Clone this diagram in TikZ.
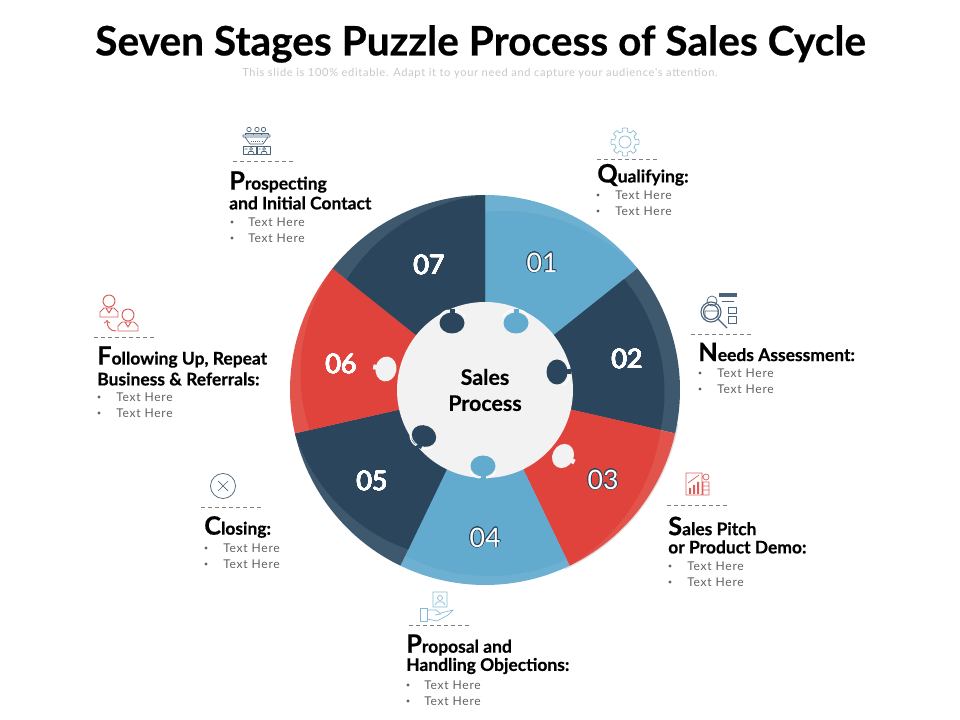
\documentclass[tikz,border=0pt]{standalone}
\usepackage{fontspec}
\usepackage{contour}
\setmainfont{Lato}[BoldFeatures={FakeBold=0.5}]
\newfontfamily\lightfont[LetterSpace=6]{Lato}
\usetikzlibrary{calc}
\definecolor{skyrim}{HTML}{6DB0D2}
\definecolor{skymain}{HTML}{62ABCF}
\definecolor{navyrim}{HTML}{3E596E}
\definecolor{navymain}{HTML}{2B465C}
\definecolor{redrim}{HTML}{E2534B}
\definecolor{redmain}{HTML}{DF433B}
\definecolor{hubgrey}{HTML}{F2F2F2}
\definecolor{iconred}{HTML}{D9605A}
\definecolor{iconsky}{HTML}{86BAD4}
\definecolor{iconnavy}{HTML}{48637A}
\contourlength{0.5pt}
\contournumber{24}
\tikzset{
  heading/.style={anchor=west, inner sep=0pt, font=\fontsize{12.4}{14}\bfseries\selectfont},
  bullet/.style={anchor=west, inner sep=0pt, text=black!62, font=\lightfont\fontsize{8.6}{10}\selectfont},
  dotmark/.style={circle, fill=black!62, inner sep=0pt, minimum size=2.4pt},
  stagenum/.style={text=white, font=\fontsize{19}{22}\selectfont},
  rule/.style={densely dashed, gray, line width=0.4pt},
  icon/.style={line width=0.5pt, line join=round}
}
\newcommand{\capl}[1]{{\fontsize{18}{14}\bfseries\selectfont #1}}
\newcommand{\heavynum}[1]{{\contourlength{0.25pt}\contour{white}{#1}}}
\newcommand{\twobullets}[3]{%
  \node[dotmark] at (#1,#3) {};
  \node[bullet] at (#2,#3) {Text Here};
  \node[dotmark] at (#1,#3+16) {};
  \node[bullet] at (#2,#3+16) {Text Here};}
\begin{document}
\begin{tikzpicture}[x=0.025cm,y=-0.025cm]
\useasboundingbox (0,0) rectangle (960,720);

\node (title) at (480.5,44) {\fontsize{28.9}{30}\bfseries\selectfont Seven Stages Puzzle Process of Sales Cycle};
\node (subtitle) at (480,73) [text=black!22] {\lightfont\fontsize{7.9}{10}\selectfont This slide is 100\% editable. Adapt it to your need and capture your audience's attention.};

% shadow under the wheel
\draw[black, opacity=0.12, line width=2pt] plot[domain=100:156, samples=30] ({485+195*sin(\x)},{390-195*cos(\x)});

% segments, rim first and then the darker face
\foreach \a/\b/\ra/\rb/\rim/\face in {
  0/51.43/178/195/skyrim/skymain,
  51.43/102.86/178/180/navyrim/navymain,
  102.86/154.29/180/195/redrim/redmain,
  154.29/205.71/188/184/skyrim/skymain,
  205.71/257.14/177/195/navyrim/navymain,
  257.14/308.57/180/195/redrim/redmain,
  308.57/360/177/195/navyrim/navymain}
{
  \fill[\rim] (485,390) -- plot[domain=\a:\b, samples=40] ({485+195*sin(\x)},{390-195*cos(\x)}) -- cycle;
  \fill[\face] (485,390) -- plot[domain=\a:\b, samples=40] ({485+(\ra+(\rb-\ra)*(\x-\a)/(\b-\a))*sin(\x)},{390-(\ra+(\rb-\ra)*(\x-\a)/(\b-\a))*cos(\x)}) -- cycle;
}

\fill[hubgrey] (485,390) circle (88);

% puzzle knobs
\foreach \x/\y/\r/\neck/\col/\chip in {
  452/323/0/-14/navymain/white,
  516/323/0/-14/skymain/white,
  557/372/-90/-14/navymain/white,
  563/456/62/13/hubgrey/redmain,
  483/466/0/13/skymain/white,
  424/436/-24/13/navymain/white,
  386/369/-100/13/hubgrey/redmain}
{
  \begin{scope}[shift={(\x,\y)}, rotate=\r]
    \fill[\col] (0,0) ellipse (12.5 and 10.5);
    \fill[\col] (-2.5,0) rectangle (2.5,\neck);
    \draw[\chip, line width=0.9pt] (3.5,0.92*\neck) .. controls (7,0.9*\neck) and (11,0.7*\neck) .. (13,0.4*\neck);
    \draw[\chip, line width=0.9pt] (-3.5,0.92*\neck) .. controls (-7,0.9*\neck) and (-11,0.7*\neck) .. (-13,0.4*\neck);
  \end{scope}
}

\node (hub) at (485,390) [align=center, font=\fontsize{15.2}{18.5}\bfseries\selectfont] {Sales\\Process};

\node[stagenum] (n1) at (542,263) {\contour{navymain}{01}};
\node[stagenum] (n2) at (627,359) {\heavynum{02}};
\node[stagenum] (n3) at (603,480) {\contour{navymain}{03}};
\node[stagenum] (n4) at (485,538) {\contour{navymain}{04}};
\node[stagenum] (n5) at (372,481) {\heavynum{05}};
\node[stagenum] (n6) at (341,364) {\heavynum{06}};
\node[stagenum] (n7) at (429,265) {\heavynum{07}};

% qualifying
\draw[rule] (597,159)--(658,159);
\node[heading] (t1) at (597,175) {\capl{Q}ualifying:};
\twobullets{598}{615}{195}
\draw[icon, iconsky] (625,142) circle (6);
\draw[icon, iconsky] plot[domain=0:360, samples=145] ({625+max(min(16*cos(8*\x)+12,14),10.5)*cos(\x)},{142+max(min(16*cos(8*\x)+12,14),10.5)*sin(\x)}) -- cycle;

% needs assessment
\draw[rule] (691,334)--(752,334);
\node[heading] (t2) at (698,352) {\capl{N}eeds Assessment:};
\twobullets{700}{717}{373}
\draw[icon, iconnavy, line width=0.8pt] (711,312) circle (10) (711,312) circle (7.5) (718,319)--(727,328);
\draw[icon, iconnavy] (712,301) circle (5) (705,320)--(705,311)--(718,311)--(718,320);
\fill[iconnavy] (719,293) rectangle (737,297);
\draw[icon, iconnavy] (722,301)--(734,301) (728,307) rectangle (736,313) (728,316) rectangle (736,323);

% sales pitch
\draw[rule] (667,505)--(728,505);
\node[heading] (t3) at (668,526) {\capl{S}ales Pitch};
\node[heading] (t3b) at (668,547) {or Product Demo:};
\twobullets{670}{687}{566}
\draw[icon, iconred] (686,473) rectangle (702,495) (706,477) circle (3) (703,482) rectangle (709,495);
\draw[icon, iconred] (703,486)--(709,486) (703,490)--(709,490) (688,483)--(699,475);
\fill[iconred] (689,488) rectangle (691,494) (693,485) rectangle (695,494) (697,482) rectangle (699,494);

% proposal
\draw[rule] (409,625)--(471,625);
\node[heading] (t4) at (406,645) {\capl{P}roposal and};
\node[heading] (t4b) at (406,666) {Handling Objections:};
\twobullets{408}{424}{685}
\draw[icon, iconsky] (433,592) rectangle (447,607) (440,598) circle (2.5) (435,605)--(437,602)--(443,602)--(445,605);
\draw[icon, iconsky] (420,608) rectangle (427,621);
\draw[icon, iconsky] (427,610)--(436,610)--(441,614)--(435,615) (441,613)--(453,610)--(448,615)--(437,621)--(427,619);

% closing
\draw[rule] (201,507)--(262,507);
\node[heading] (t5) at (204,527) {\capl{C}losing:};
\twobullets{206}{223}{548}
\draw[icon, iconnavy] (223,486) circle (12.5) (218,481)--(228,491) (228,481)--(218,491);

% following up
\draw[rule] (94,337)--(155,337);
\node[heading] (t6) at (97,357) {\capl{F}ollowing Up, Repeat};
\node[heading] (t6b) at (97,379) {Business \& Referrals:};
\twobullets{99}{116}{397}
\draw[icon, iconred, line width=0.7pt] (109,301) circle (6) (128,315) circle (6);
\draw[icon, iconred, line width=0.7pt] (100,317)--(100,312)--(104,308)--(114,308)--(118,312)--(118,317)--cycle (106,308)--(109,313)--(112,308);
\draw[icon, iconred, line width=0.7pt] (118,331)--(118,326)--(122,322)--(134,322)--(138,326)--(138,331)--cycle (125,322)--(128,327)--(131,322);
\draw[icon, iconred, line width=0.7pt, ->] (116,331) .. controls (110,331) and (107,327) .. (107,320);

% prospecting
\draw[rule] (233,161)--(293,161);
\node[heading] (t7) at (229,182) {\capl{P}rospecting};
\node[heading] (t7b) at (229,203) {and Initial Contact};
\twobullets{232}{248}{222}
\draw[icon, iconnavy] (249,129.5) circle (2.2) (257,129.5) circle (2.2) (263.5,129.5) circle (2.2);
\draw[icon, iconnavy] (245,135) -- (245,133.5) -- (253,133.5) -- (253,135) (253,135) -- (253,133.5) -- (261,133.5) -- (261,135) (261,133.5) -- (268,133.5) -- (268,135);
\draw[icon, iconnavy] (243,135) rectangle (270,137) (245,137)--(250,144)--(263,144)--(268,137);
\draw[icon, iconnavy] (243,146) rectangle (256,154) (257,146) rectangle (270,154);
\draw[icon, iconnavy] (251,149) circle (1.5) (264,149) circle (1.5) (248,154)--(249,151.5)--(253,151.5)--(254,154) (261,154)--(262,151.5)--(266,151.5)--(267,154) (244.5,149)--(247.5,149) (258.5,149)--(260.5,149);
\draw[icon, iconnavy, densely dotted] (251,141)--(262,141);

\end{tikzpicture}
\end{document}
